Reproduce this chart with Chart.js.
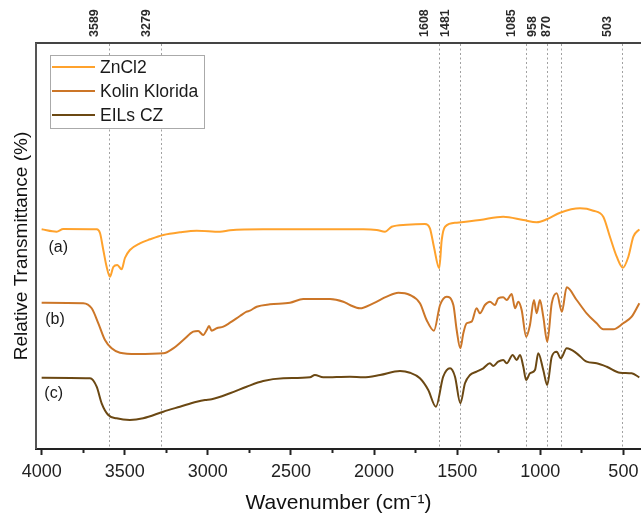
<!DOCTYPE html>
<html>
<head>
<meta charset="utf-8">
<script src="https://cdn.jsdelivr.net/npm/chart.js@4/dist/chart.umd.min.js"></script>
<style>
  html, body { margin: 0; padding: 0; background: #fff; }
  #wrap { width: 641px; height: 514px; position: relative; }
</style>
</head>
<body>
<div id="wrap"><canvas id="c" width="641" height="514"></canvas></div>
<script>
// ---------- data ----------
const seriesNames = ['ZnCl2', 'Kolin Klorida', 'EILs CZ'];
const seriesTags = ['(a)', '(b)', '(c)'];
const seriesColors = ['#FFA22C', '#CC7628', '#6B4813'];

// ZnCl2
const znWn = [4000,3910,3870,3669,3649,3629,3609,3589,3569,3545,3519,3499,3469,3409,3348,3268,3168,3067,2927,2867,2668,2368,2165,2065,1984,1934,1894,1804,1694,1664,1640,1608,1593,1573,1503,1363,1223,1102,1022,961,881,761,681,621,581,540,503,470,440,404];
const znT  = [219.7,217.3,220,219.7,216,199,182.3,172.3,182,184,179.7,191,199,205.7,209.7,214,216.7,218.3,217.3,218.7,219.7,219.7,219.7,219.7,219,217.3,222.3,224.3,225,220.7,202.3,180.7,209,222.3,226.3,229,232.3,229,226.7,229.7,236.3,240.7,238.3,232.3,212.3,192.3,181.3,192.3,212.3,219.7];

// Kolin Klorida
const kolWn = [4000,3750,3699,3659,3619,3579,3529,3428,3268,3208,3148,3088,3058,3028,3007,2993,2977,2947,2907,2867,2807,2767,2747,2706,2626,2506,2426,2265,2185,2145,2085,2005,1924,1854,1784,1724,1684,1640,1603,1563,1523,1503,1481,1463,1443,1413,1383,1363,1333,1303,1273,1253,1223,1202,1172,1152,1132,1112,1085,1062,1038,1022,1002,982,958,931,901,870,841,781,721,661,621,561,501,450,404];
const kolT  = [146.3,145.7,140.7,125.7,109,100.7,96.3,95,95.7,100.7,109,117.3,118,114,119,123,118.3,120.7,122.3,126.3,133,137.3,138.3,142.3,144.7,146.3,150,150,147.3,144,140.7,145.7,152.3,156.3,154,145.7,129,118.3,144,152.3,144,119,100.7,115.7,125.7,127.3,140.7,135.7,144,147.3,144,150.7,151.7,149,155,140.7,147.3,139,112.3,124,149,135.7,149,132.3,107.3,145.7,155.7,137.3,161.7,149,135.7,125.7,119.7,119.7,125.7,132.3,145.7];

// EILs CZ
const eilWn = [4000,3709,3669,3639,3599,3549,3469,3389,3268,3168,3067,3017,2977,2867,2767,2667,2546,2386,2356,2306,2145,2065,1964,1844,1784,1724,1674,1628,1584,1543,1513,1481,1453,1423,1383,1343,1303,1283,1253,1223,1202,1166,1142,1122,1102,1085,1062,1032,1012,982,958,931,901,877,841,781,721,661,600,520,450,404];
const eilT  = [71.3,70.7,62.3,45.7,34,30.7,29,30.7,37.3,42.3,47.3,49,49.7,55.7,62.3,68,70.7,71.7,74,71.7,72.3,71.7,74,78,76.3,70.7,59,42.3,72.3,80.7,72.3,45.7,65.7,74,77.3,80.7,85.7,83,87.3,89,85.7,94,89,94,82.3,69,75.7,79,95.7,79,64,92.3,97.3,90.7,100.7,95.7,87.3,85.7,82.3,76.3,75.7,71.7];

// axis ticks
const majorTicks = [4000, 3500, 3000, 2500, 2000, 1500, 1000, 500];
const minorTicks = [3750, 3250, 2750, 2250, 1750, 1250, 750];
const peakTicks = [3589, 3279, 1608, 1481, 1085, 958, 870, 503];
const xTitle = 'Wavenumber (cm\u207B\u00B9)';
const yTitle = 'Relative Transmittance (%)';

// ---------- build ----------
const zip = (xs, ys) => xs.map((x, i) => ({ x: x, y: ys[i] }));
const seriesData = [zip(znWn, znT), zip(kolWn, kolT), zip(eilWn, eilT)];

const FONT = "'Liberation Sans', Arial, sans-serif";
const X_MIN = 394, X_MAX = 4034;

const insideLegend = {
  id: 'insideLegend',
  afterDatasetsDraw(chart) {
    const ctx = chart.ctx;
    const a = chart.chartArea;
    ctx.save();
    // legend box
    const bx = a.left + 14.5, by = a.top + 12.5, bw = 154, bh = 73;
    ctx.fillStyle = '#fff';
    ctx.fillRect(bx, by, bw, bh);
    ctx.strokeStyle = '#aaaaaa';
    ctx.lineWidth = 1;
    ctx.strokeRect(bx, by, bw, bh);
    ctx.font = '17.5px ' + FONT;
    ctx.textBaseline = 'middle';
    ctx.textAlign = 'left';
    chart.data.datasets.forEach((ds, i) => {
      const y = a.top + 24 + i * 24;
      ctx.strokeStyle = ds.borderColor;
      ctx.lineWidth = 2;
      ctx.beginPath();
      ctx.moveTo(a.left + 16, y);
      ctx.lineTo(a.left + 59, y);
      ctx.stroke();
      ctx.fillStyle = '#1a1a1a';
      ctx.fillText(ds.label, a.left + 64, y + 1);
    });
    // series tags (a), (b), (c)
    ctx.font = '16px ' + FONT;
    ctx.textAlign = 'center';
    const tagY = [204.5, 277, 351];
    const tagX = [22.3, 19, 17.7];
    seriesTags.forEach((t, i) => {
      ctx.fillText(t, a.left + tagX[i], a.top + tagY[i]);
    });
    // left frame line
    ctx.strokeStyle = '#555';
    ctx.lineWidth = 2;
    ctx.beginPath();
    ctx.moveTo(a.left, a.top);
    ctx.lineTo(a.left, a.bottom);
    ctx.stroke();
    ctx.restore();
  }
};

const noSidePadding = (s) => { s.paddingLeft = 0; s.paddingRight = 0; };

new Chart(document.getElementById('c'), {
  type: 'line',
  data: {
    datasets: seriesNames.map((n, i) => ({
      label: n,
      data: seriesData[i],
      borderColor: seriesColors[i],
      borderWidth: 2,
      pointRadius: 0,
      fill: false,
      cubicInterpolationMode: 'monotone'
    }))
  },
  options: {
    responsive: false,
    animation: false,
    layout: { padding: { left: 0, right: 0, top: 0, bottom: 0 } },
    plugins: { legend: { display: false }, tooltip: { enabled: false } },
    scales: {
      x: {
        type: 'linear',
        position: 'bottom',
        reverse: true,
        min: X_MIN, max: X_MAX,
        afterBuildTicks: (s) => {
          s.ticks = majorTicks.concat(minorTicks).sort((p, q) => q - p).map(v => ({ value: v }));
        },
        afterFit: (s) => { s.height = 65; noSidePadding(s); },
        ticks: {
          autoSkip: false,
          maxRotation: 0, minRotation: 0,
          padding: 6,
          color: '#222',
          font: { family: FONT, size: 18 },
          callback: (v) => majorTicks.includes(v) ? String(v) : ''
        },
        grid: {
          drawOnChartArea: false,
          drawTicks: true,
          tickLength: 6,
          tickWidth: 2,
          tickColor: '#222',
          tickBorderDash: (ctx) => (ctx.tick && majorTicks.includes(ctx.tick.value)) ? [] : [3, 40]
        },
        border: { display: true, color: '#222', width: 2 },
        title: {
          display: true,
          text: xTitle,
          color: '#111',
          font: { family: FONT, size: 21, lineHeight: 1 },
          padding: { top: 0, bottom: 0 }
        }
      },
      xTop: {
        type: 'linear',
        position: 'top',
        reverse: true,
        min: X_MIN, max: X_MAX,
        afterBuildTicks: (s) => { s.ticks = peakTicks.map(v => ({ value: v })); },
        afterFit: (s) => { s.height = 43; noSidePadding(s); },
        ticks: {
          autoSkip: false,
          minRotation: 90, maxRotation: 90,
          padding: 6,
          color: '#2a2a2a',
          font: { family: FONT, size: 12.5, weight: 'bold' },
          callback: (v) => String(v)
        },
        grid: {
          drawOnChartArea: true,
          drawTicks: false,
          color: '#a0a0a0',
          lineWidth: 1
        },
        border: { display: true, color: '#444', width: 2, dash: [2, 2.5] }
      },
      y: {
        type: 'linear',
        position: 'left',
        min: 0, max: 406,
        afterFit: (s) => { s.width = 36; },
        ticks: { display: false },
        grid: { display: false, drawTicks: false },
        border: { display: false },
        title: {
          display: true,
          text: yTitle,
          color: '#111',
          font: { family: FONT, size: 19 },
          padding: { top: 10, bottom: 0 }
        }
      }
    }
  },
  plugins: [insideLegend]
});
</script>
</body>
</html>
